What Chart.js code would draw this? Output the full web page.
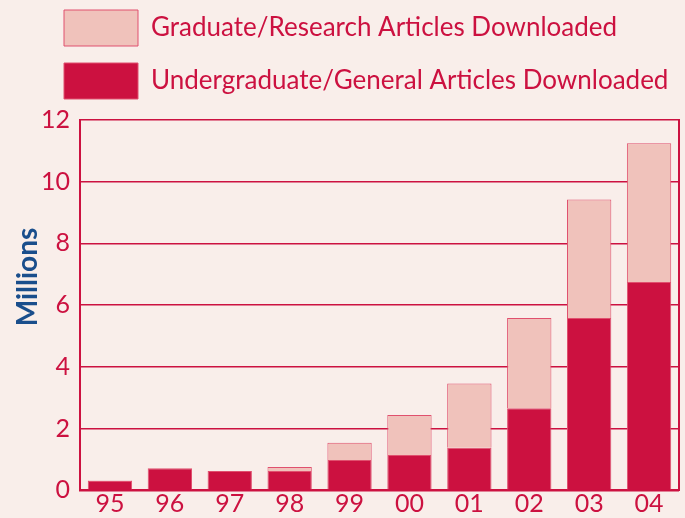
<!DOCTYPE html>
<html>
<head>
<meta charset="utf-8">
<script src="https://cdn.jsdelivr.net/npm/chart.js@4"></script>
<style>
  html, body { margin: 0; padding: 0; background: #f9eeea; }
  #wrap { width: 685px; height: 518px; }
</style>
</head>
<body>
<div id="wrap"><canvas id="myChart"></canvas></div>
<script>
// Years on the x axis
var years = ['95', '96', '97', '98', '99', '00', '01', '02', '03', '04'];
// Millions of articles downloaded
var undergradValues = [0.30, 0.71, 0.62, 0.62, 0.98, 1.14, 1.38, 2.66, 5.58, 6.75];
var gradValues = [0.02, 0, 0, 0.13, 0.56, 1.30, 2.08, 2.92, 3.84, 4.50];
var yTicks = [0, 2, 4, 6, 8, 10, 12];

var red = '#cc1140';
var pink = '#f0c2bb';
var edge = '#e0506e';
var fontName = 'Lato';

// move the legend over the plot and draw the y title a bit above centre
var tweaks = {
  id: 'tweaks',
  afterLayout: function(chart) {
    chart.legend.left = 47;
    chart.legend.top = -7;
  },
  afterDraw: function(chart) {
    var ctx = chart.ctx;
    ctx.save();
    ctx.translate(28, 277);
    ctx.rotate(-Math.PI / 2);
    ctx.fillStyle = '#1a4e8c';
    ctx.font = 'bold 28px ' + fontName;
    ctx.textAlign = 'center';
    ctx.textBaseline = 'middle';
    ctx.fillText('Millions', 0, 0);
    ctx.restore();
  }
};

new Chart('myChart', {
  type: 'bar',
  data: {
    labels: years,
    datasets: [
      {
        label: 'Undergraduate/General Articles Downloaded',
        data: undergradValues,
        backgroundColor: red,
        borderColor: edge,
        borderWidth: 1
      },
      {
        label: 'Graduate/Research Articles Downloaded',
        data: gradValues,
        backgroundColor: pink,
        borderColor: edge,
        borderWidth: 1
      }
    ]
  },
  options: {
    responsive: true,
    maintainAspectRatio: false,
    animation: false,
    layout: { padding: { left: 13, right: 6, top: 4, bottom: 0 } },
    datasets: { bar: { categoryPercentage: 1, barPercentage: 0.74 } },
    plugins: {
      tooltip: { enabled: false },
      legend: {
        position: 'top',
        align: 'start',
        reverse: true,
        labels: {
          boxWidth: 74,
          boxHeight: 36,
          padding: 17,
          color: red,
          font: { family: fontName, size: 26 }
        }
      }
    },
    scales: {
      x: {
        stacked: true,
        grid: { display: false, drawTicks: false },
        border: { color: red, width: 2 },
        ticks: { color: red, padding: 2, font: { family: fontName, size: 25, lineHeight: 0.95 } }
      },
      y: {
        stacked: true,
        min: 0,
        max: 12,
        afterBuildTicks: function(axis) {
          axis.ticks = yTicks.map(function(v) { return { value: v }; });
        },
        afterFit: function(axis) {
          axis.width = 67;
        },
        grid: { color: red, lineWidth: 1.5, drawTicks: false },
        border: { color: red, width: 2 },
        ticks: { color: red, padding: 10, font: { family: fontName, size: 25 } }
      },
      y2: {
        position: 'right',
        min: 0,
        max: 12,
        grid: { drawOnChartArea: false, drawTicks: false },
        border: { color: red, width: 2 },
        ticks: { display: false }
      }
    }
  },
  plugins: [tweaks]
});
</script>
</body>
</html>
